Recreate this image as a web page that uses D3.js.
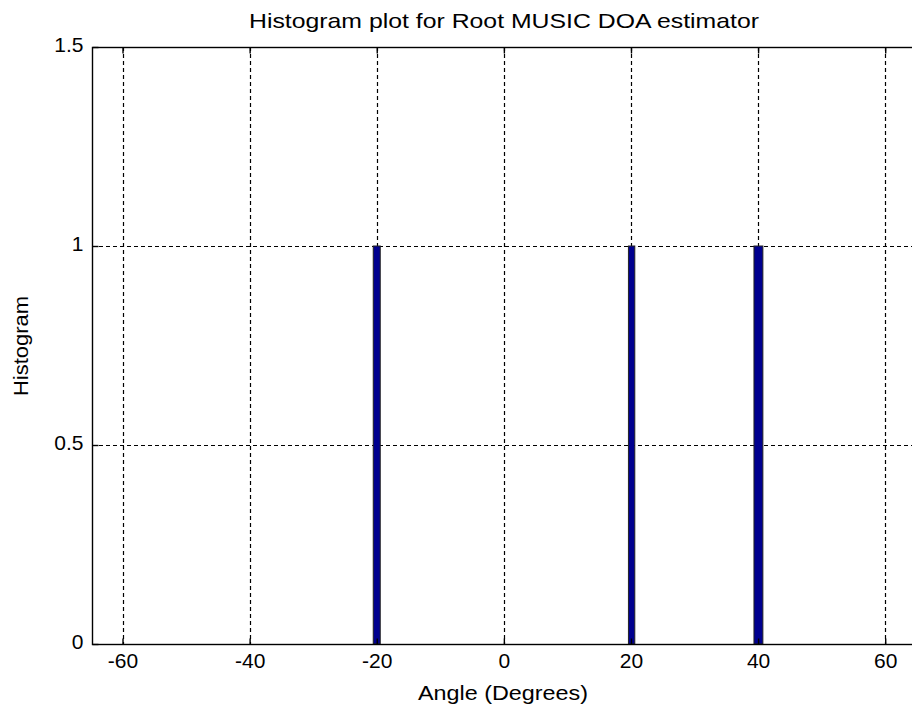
<!DOCTYPE html>
<html><head><meta charset="utf-8">
<script src="https://cdn.jsdelivr.net/npm/d3@7"></script>
<style>body{margin:0;background:#fff}svg{display:block}text{font-family:"Liberation Sans",Arial,sans-serif}</style>
</head><body><svg id="c" width="912" height="708"></svg>
<script>
const binLeft = [-20.55, 19.6, 39.35];
const binRight = [-19.45, 20.6, 40.75];
const counts = [1, 1, 1];
const xTicks = [-60, -40, -20, 0, 20, 40, 60];
const yTicks = [0, 0.5, 1, 1.5];
const title = "Histogram plot for Root MUSIC DOA estimator";
const xLabel = "Angle (Degrees)";
const yLabel = "Histogram";

const svg = d3.select("#c");
const L = 92, R = 917, T = 47, B = 644;
const x = d3.scaleLinear().domain([-64.8, 65]).range([L, R]);
const y = d3.scaleLinear().domain([0, 1.5]).range([B, T]);

// grid
const g = svg.append("g");
g.selectAll(".gx").data(xTicks).join("line")
  .attr("x1", d => Math.round(x(d)) + 0.5).attr("x2", d => Math.round(x(d)) + 0.5)
  .attr("y1", T).attr("y2", B).attr("stroke", "#000").attr("stroke-width", 1.2).attr("stroke-dasharray", "4,3");
g.selectAll(".gy").data(yTicks.filter(d => d > 0 && d < 1.5)).join("line")
  .attr("y1", d => Math.round(y(d)) + 0.5).attr("y2", d => Math.round(y(d)) + 0.5)
  .attr("x1", L).attr("x2", R).attr("stroke", "#000").attr("stroke-width", 1.2).attr("stroke-dasharray", "4,3");

// bars
const bins = counts.map((c, i) => ({l: binLeft[i], r: binRight[i], c}));
svg.append("g").selectAll("rect").data(bins).join("rect")
  .attr("x", d => x(d.l)).attr("width", d => x(d.r) - x(d.l))
  .attr("y", d => y(d.c)).attr("height", d => y(0) - y(d.c))
  .attr("fill", "#00008f").attr("stroke", "#222").attr("stroke-width", 1);

// axes box
svg.append("rect").attr("x", L + 0.5).attr("y", T + 0.5).attr("width", R - L).attr("height", B - T)
  .attr("fill", "none").attr("stroke", "#000").attr("stroke-width", 1.4);

const xa = svg.append("g").attr("transform", `translate(0,${B + 0.5})`)
  .call(d3.axisBottom(x).tickValues(xTicks).tickSize(-6).tickPadding(8).tickFormat(d => String(d)));
const xaTop = svg.append("g").attr("transform", `translate(0,${T + 0.5})`)
  .call(d3.axisTop(x).tickValues(xTicks).tickSize(-6).tickFormat(""));
const ya = svg.append("g").attr("transform", `translate(${L + 0.5},0)`)
  .call(d3.axisLeft(y).tickValues(yTicks).tickSize(-6).tickPadding(9).tickFormat(d => String(d)));
[xa, xaTop, ya].forEach(a => {
  a.select(".domain").remove();
  a.selectAll(".tick line").attr("stroke", "#000").attr("stroke-width", 1.4);
  a.selectAll("text").attr("font-size", 21).attr("fill", "#000").attr("font-family", "Liberation Sans, Arial, sans-serif");
});
xa.selectAll("text").attr("dy", "0.76em");
ya.selectAll("text").attr("dy", "0.2em");

svg.append("text").attr("x", 504).attr("y", 28).attr("text-anchor", "middle")
  .attr("font-size", 21).attr("textLength", 510).attr("lengthAdjust", "spacingAndGlyphs").text(title);
svg.append("text").attr("x", 503).attr("y", 700).attr("text-anchor", "middle")
  .attr("font-size", 21).attr("textLength", 170).attr("lengthAdjust", "spacingAndGlyphs").text(xLabel);
svg.append("text").attr("transform", "translate(28,346) rotate(-90)").attr("text-anchor", "middle")
  .attr("font-size", 21).attr("textLength", 100).attr("lengthAdjust", "spacingAndGlyphs").text(yLabel);
</script></body></html>
